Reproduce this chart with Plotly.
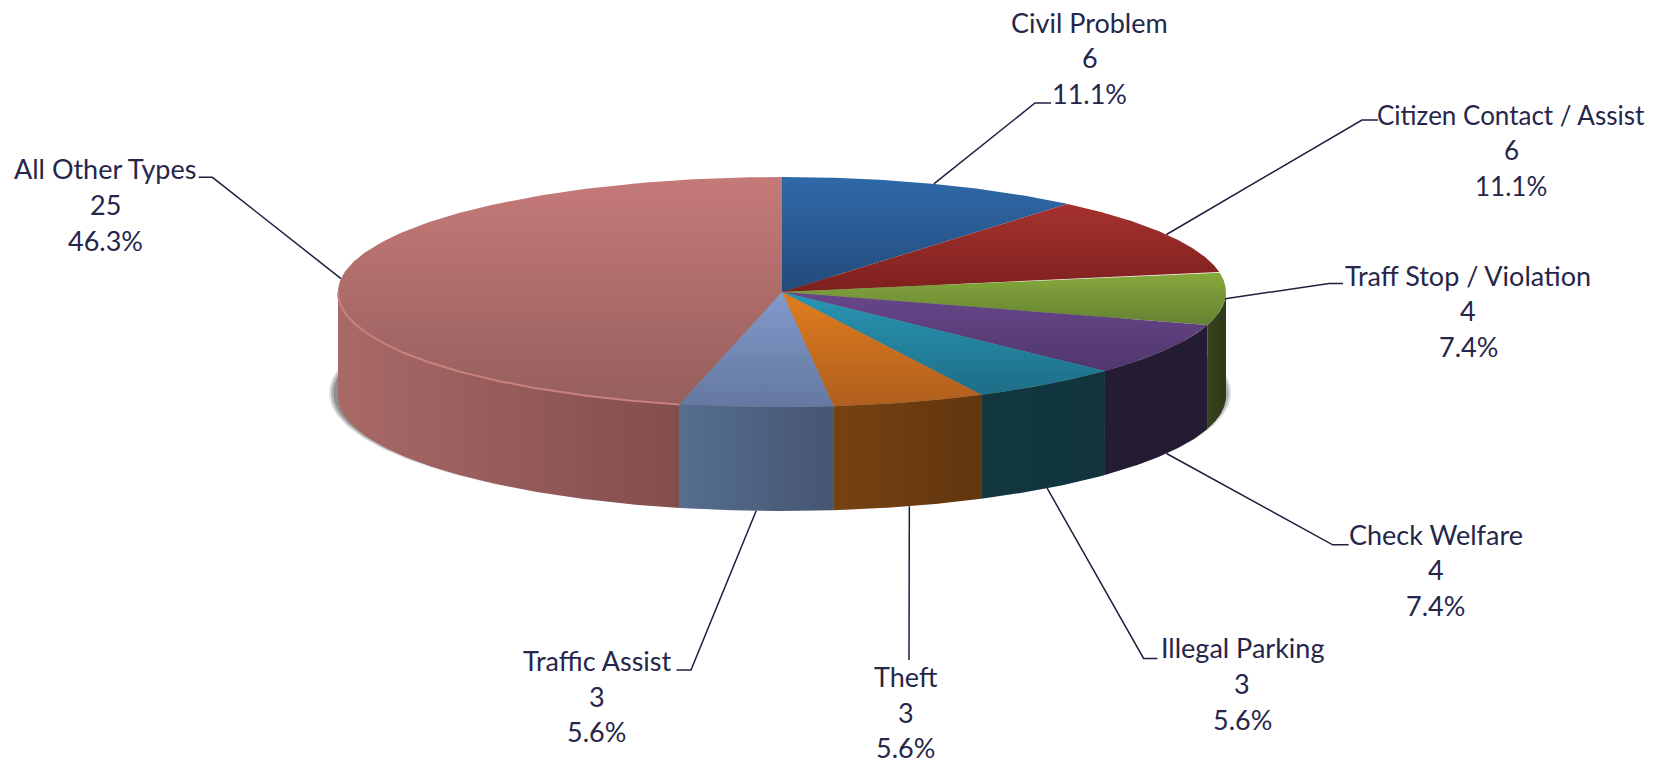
import numpy as np
import plotly.graph_objects as go

categories = ["Civil Problem", "Citizen Contact / Assist", "Traff Stop / Violation", "Check Welfare",
              "Illegal Parking", "Theft", "Traffic Assist", "All Other Types"]
counts = [6, 6, 4, 4, 3, 3, 3, 25]

top_grad = [("#2F69A9", "#234B7C"), ("#A5322E", "#7D201E"), ("#87AA3C", "#648232"), ("#69468A", "#50376E"),
            ("#2896B4", "#1E6E87"), ("#E17D1E", "#AF5F1E"), ("#829BCD", "#6478A0"), ("#C57A78", "#965F5D")]
side_grad = [("#1F3F68", "#1F3F68"), ("#6A1C1A", "#6A1C1A"), ("#37431C", "#2E3A18"), ("#241C32", "#241C32"),
             ("#12373F", "#11343D"), ("#774212", "#62360E"), ("#556E91", "#465570"), ("#A96967", "#824E4C")]
# label anchors: centre x, first-line y, leader elbow, leader end
label_pos = [(1089.5, 22.3, (1035, 103), (1051, 103)), (1511, 114.7, (1362, 120), (1378, 120)),
             (1468, 275, (1329, 283.5), (1343, 283.5)), (1435.7, 534, (1332.7, 544.8), (1348.6, 544.8)),
             (1242, 647.8, (1143.6, 658.4), (1157.5, 658.4)), (905.8, 676.4, (909, 660), (909, 660)),
             (596.8, 660.5, (691, 670), (676.4, 670)), (105, 168.8, (212.4, 177.3), (198.6, 177.3))]
label_size = [27, 26, 27, 27, 27, 27, 27, 27]

CX, CY, RX, RY, DEPTH = 782, 292, 444, 115, 104
FONT = "Lato"
LINE_STEP = 35.6
TEXT = "#26264A"
LINE = "#1F1F3F"
total = sum(counts)
edges = np.concatenate([[0], np.cumsum(counts)]) / total * 2 * np.pi


def rim(t, dy=0, cx=CX, cy=CY, rx=RX, ry=RY):
    return cx + rx * np.sin(t), cy - ry * np.cos(t) + dy


fig = go.Figure()

# soft ground shadow
for grow, col in [(7, "rgba(130,130,130,0.25)"), (5, "rgba(120,120,120,0.4)"), (2.5, "rgba(110,110,110,0.55)")]:
    t = np.linspace(0, 2 * np.pi, 240)
    sx, sy = rim(t, cx=CX - 2, cy=CY + DEPTH - 3, rx=RX + grow, ry=RY + grow * 0.4)
    fig.add_trace(go.Scatter(x=sx, y=sy, mode="lines", line=dict(width=0), fill="toself", fillcolor=col,
                             hoverinfo="skip", showlegend=False))

# visible side walls
for i in range(len(counts)):
    a, b = max(edges[i], np.pi / 2), min(edges[i + 1], 3 * np.pi / 2)
    if b <= a:
        continue
    t = np.linspace(a, b, 100)
    x0, y0 = rim(t)
    x1, y1 = rim(t[::-1], dy=DEPTH)
    xs, ys = np.concatenate([x0, x1, x0[:1]]), np.concatenate([y0, y1, y0[:1]])
    lo, hi = side_grad[i]
    fig.add_trace(go.Scatter(x=xs, y=ys, mode="lines", line=dict(width=0), fill="toself",
                             fillgradient=dict(type="horizontal", start=float(xs.min()), stop=float(xs.max()),
                                               colorscale=[[0, lo], [1, hi]]),
                             hoverinfo="skip", showlegend=False))

# top face slices
for i in range(len(counts)):
    t = np.linspace(edges[i], edges[i + 1], 160)
    x0, y0 = rim(t)
    xs = np.concatenate([[CX], x0, [CX]])
    ys = np.concatenate([[CY], y0, [CY]])
    hi, lo = top_grad[i]
    fig.add_trace(go.Scatter(x=xs, y=ys, mode="lines", line=dict(width=0), fill="toself",
                             fillgradient=dict(type="vertical", start=float(ys.min()), stop=float(ys.max()),
                                               colorscale=[[0, hi], [1, lo]]),
                             hoverinfo="skip", showlegend=False))

# highlighted front edge of the largest slice
t = np.linspace(edges[7], 3 * np.pi / 2, 120)
hx, hy = rim(t, dy=0.5)
fig.add_trace(go.Scatter(x=hx, y=hy, mode="lines", line=dict(width=2, color="#C98180"),
                         hoverinfo="skip", showlegend=False))

# leader lines and labels
for i, name in enumerate(categories):
    mid = (edges[i] + edges[i + 1]) / 2
    cxl, yl, elbow, end = label_pos[i]
    front = np.cos(mid) < -0.2
    px, py = rim(mid, dy=DEPTH if front else 0)
    fig.add_trace(go.Scatter(x=[px, elbow[0], end[0]], y=[py, elbow[1], end[1]], mode="lines",
                             line=dict(width=1.5, color=LINE), hoverinfo="skip", showlegend=False))
    lines = [name, str(counts[i]), f"{counts[i] / total * 100:.1f}%"]
    for j, s in enumerate(lines):
        fig.add_annotation(x=cxl, y=yl + j * LINE_STEP, text=s, showarrow=False, xanchor="center", yanchor="middle",
                           font=dict(family=FONT, size=label_size[i], color=TEXT))

fig.update_layout(
    width=1665, height=763, margin=dict(l=0, r=0, t=0, b=0), paper_bgcolor="white", plot_bgcolor="white",
    showlegend=False, hovermode=False,
    xaxis=dict(range=[0, 1665], visible=False, fixedrange=True),
    yaxis=dict(range=[763, 0], visible=False, fixedrange=True),
)
fig.write_html("out.html", config=dict(displayModeBar=False),
               post_script="document.body.style.margin='0';document.documentElement.style.overflow='hidden';")
